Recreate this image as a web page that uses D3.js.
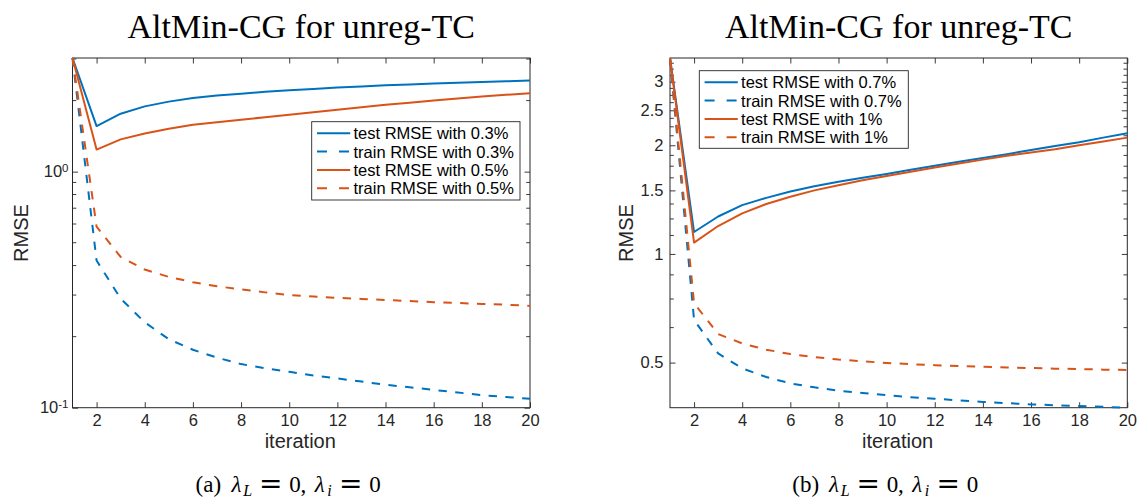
<!DOCTYPE html>
<html>
<head>
<meta charset="utf-8">
<script src="https://cdn.jsdelivr.net/npm/d3@7"></script>
<style>
  body { margin: 0; background: #fff; }
  svg { display: block; }
  text { font-family: "Liberation Sans", Arial, sans-serif; }
</style>
</head>
<body>
<svg id="chart" width="1139" height="499"></svg>
<script>
// ---- data -------------------------------------------------------------
const iterations = [1, 2, 3, 4, 5, 6, 7, 8, 9, 10, 11, 12, 13, 14, 15, 16, 17, 18, 19, 20];

// panel (a): sampling 0.3% and 0.5%
const testRmse03  = [3.03, 1.56, 1.76, 1.89, 1.98, 2.05, 2.10, 2.14, 2.18, 2.21, 2.24, 2.27, 2.295, 2.32, 2.34, 2.36, 2.38, 2.40, 2.415, 2.43];
const trainRmse03 = [3.03, 0.42, 0.29, 0.23, 0.195, 0.176, 0.163, 0.153, 0.147, 0.142, 0.137, 0.133, 0.129, 0.125, 0.122, 0.119, 0.116, 0.113, 0.111, 0.109];
const testRmse05  = [3.03, 1.24, 1.37, 1.45, 1.52, 1.58, 1.62, 1.66, 1.70, 1.74, 1.785, 1.83, 1.875, 1.92, 1.96, 2.00, 2.04, 2.08, 2.115, 2.15];
const trainRmse05 = [3.03, 0.585, 0.435, 0.385, 0.358, 0.340, 0.327, 0.317, 0.308, 0.300, 0.296, 0.292, 0.289, 0.286, 0.283, 0.280, 0.278, 0.275, 0.273, 0.270];

// panel (b): sampling 0.7% and 1%
const testRmse07  = [3.49, 1.15, 1.27, 1.365, 1.43, 1.49, 1.54, 1.585, 1.625, 1.665, 1.71, 1.755, 1.80, 1.845, 1.89, 1.94, 1.99, 2.04, 2.10, 2.16];
const trainRmse07 = [3.49, 0.656, 0.53, 0.482, 0.456, 0.438, 0.427, 0.418, 0.412, 0.406, 0.401, 0.397, 0.393, 0.389, 0.386, 0.383, 0.381, 0.379, 0.377, 0.375];
const testRmse1   = [3.49, 1.075, 1.195, 1.295, 1.375, 1.44, 1.50, 1.55, 1.60, 1.645, 1.69, 1.735, 1.78, 1.825, 1.87, 1.91, 1.95, 2.00, 2.05, 2.10];
const trainRmse1  = [3.49, 0.73, 0.60, 0.565, 0.543, 0.528, 0.518, 0.510, 0.504, 0.499, 0.495, 0.492, 0.489, 0.487, 0.485, 0.483, 0.481, 0.480, 0.478, 0.477];

// ticks and labels
const xTicks = [2, 4, 6, 8, 10, 12, 14, 16, 18, 20];
const leftYTicks = [0.1, 1];
const leftYTickExponents = ["-1", "0"];
const leftYMinorTicks = [0.2, 0.3, 0.4, 0.5, 0.6, 0.7, 0.8, 0.9, 2, 3];
const rightYTicks = [0.5, 1, 1.5, 2, 2.5, 3];
const rightYTickLabels = ["0.5", "1", "1.5", "2", "2.5", "3"];
const rightYMinorTicks = [0.625, 0.75, 0.875, 1.125, 1.25, 1.375, 1.625, 1.75, 1.875,
                          2.125, 2.25, 2.375, 2.625, 2.75, 2.875, 3.125, 3.25, 3.375];

const legendA = ["test RMSE with 0.3%", "train RMSE with 0.3%", "test RMSE with 0.5%", "train RMSE with 0.5%"];
const legendB = ["test RMSE with 0.7%", "train RMSE with 0.7%", "test RMSE with 1%", "train RMSE with 1%"];

const titleText = "AltMin-CG for unreg-TC";
const xLabelText = "iteration";
const yLabelText = "RMSE";

// ---- style ------------------------------------------------------------
const BLUE = "#0072BD";
const ORANGE = "#D95319";
const AXIS = "#262626";
const TICK_FONT = 16.5;
const LABEL_FONT = 20;
const MAJOR_TICK = 5.5;
const MINOR_TICK = 3.8;
const DASH = "8.4,8.4";
const SERIF = '"Liberation Serif", "Times New Roman", serif';

const svg = d3.select("#chart");

function drawPanel(cfg) {
  const top = 58, bottom = 407.7;
  const x = d3.scaleLinear().domain([1, 20]).range([cfg.left, cfg.right]);
  const y = d3.scaleLog().domain(cfg.yDomain).range([bottom, top]);
  const g = svg.append("g");

  // minor ticks on both vertical sides
  const minor = g.append("g").attr("stroke", AXIS).attr("stroke-width", 0.9);
  cfg.minorTicks.forEach(v => {
    minor.append("line").attr("x1", cfg.left).attr("x2", cfg.left + MINOR_TICK)
      .attr("y1", y(v)).attr("y2", y(v));
    minor.append("line").attr("x1", cfg.right).attr("x2", cfg.right - MINOR_TICK)
      .attr("y1", y(v)).attr("y2", y(v));
  });

  // axes (ticks pointing inward)
  const styleAxis = sel => {
    sel.select(".domain").remove();
    sel.selectAll(".tick line").attr("stroke", AXIS).attr("stroke-width", 0.9);
    sel.selectAll(".tick text").attr("fill", AXIS).style("font-size", TICK_FONT + "px")
      .style("font-family", '"Liberation Sans", Arial, sans-serif');
  };

  g.append("g").attr("transform", `translate(0,${bottom})`)
    .call(d3.axisBottom(x).tickValues(xTicks).tickFormat(d3.format("d"))
      .tickSizeInner(-MAJOR_TICK).tickSizeOuter(0).tickPadding(7))
    .call(styleAxis);
  g.append("g").attr("transform", `translate(0,${top})`)
    .call(d3.axisTop(x).tickValues(xTicks).tickFormat("")
      .tickSizeInner(-MAJOR_TICK).tickSizeOuter(0))
    .call(styleAxis);

  const yAxis = g.append("g").attr("transform", `translate(${cfg.left},0)`)
    .call(d3.axisLeft(y).tickValues(cfg.yTicks).tickFormat((d, i) => cfg.yTickLabels[i])
      .tickSizeInner(-MAJOR_TICK).tickSizeOuter(0).tickPadding(cfg.yPad))
    .call(styleAxis);
  g.append("g").attr("transform", `translate(${cfg.right},0)`)
    .call(d3.axisRight(y).tickValues(cfg.yTicks).tickFormat("")
      .tickSizeInner(-MAJOR_TICK).tickSizeOuter(0))
    .call(styleAxis);

  if (cfg.powerLabels) {
    yAxis.selectAll(".tick text").each(function (d, i) {
      const t = d3.select(this).text(null);
      t.append("tspan").text("10");
      t.append("tspan").attr("dy", "-0.45em").style("font-size", "11.5px").text(cfg.yTickLabels[i]);
    });
  }

  // box
  g.append("rect").attr("x", cfg.left).attr("y", top)
    .attr("width", cfg.right - cfg.left).attr("height", bottom - top)
    .attr("fill", "none").attr("stroke", AXIS).attr("stroke-width", 1);

  // series
  const line = d3.line().x((d, i) => x(iterations[i])).y(d => y(d));
  const plotArea = g.append("g");
  cfg.series.forEach(s => {
    plotArea.append("path").datum(s.values)
      .attr("d", line).attr("fill", "none")
      .attr("stroke", s.color).attr("stroke-width", 2)
      .attr("stroke-linejoin", "round")
      .attr("stroke-dasharray", s.dashed ? DASH : null);
  });

  // legend
  const L = cfg.legend;
  const lg = g.append("g").attr("transform", `translate(${L.x},${L.y})`);
  lg.append("rect").attr("width", L.w).attr("height", L.h)
    .attr("fill", "#fff").attr("stroke", AXIS).attr("stroke-width", 0.9);
  cfg.series.forEach((s, i) => {
    const ry = 11.6 + i * 18.3;
    lg.append("line").attr("x1", 5.3).attr("x2", 38.5).attr("y1", ry).attr("y2", ry)
      .attr("stroke", s.color).attr("stroke-width", 2)
      .attr("stroke-dasharray", s.dashed ? "10,12" : null);
    lg.append("text").attr("x", 41.8).attr("y", ry).attr("dy", "0.36em")
      .style("font-size", TICK_FONT + "px").attr("fill", "#000").text(cfg.legendLabels[i]);
  });

  const cx = (cfg.left + cfg.right) / 2;

  // title
  g.append("text").attr("x", cx).attr("y", 38.3).attr("text-anchor", "middle")
    .style("font-family", SERIF)
    .style("font-size", "34px").attr("fill", "#000").text(titleText);

  // axis labels
  g.append("text").attr("x", cx - 1).attr("y", 448.3).attr("text-anchor", "middle")
    .style("font-size", LABEL_FONT + "px").attr("fill", AXIS).text(xLabelText);
  g.append("text").attr("transform", `translate(${cfg.yLabelX},233) rotate(-90)`)
    .attr("text-anchor", "middle")
    .style("font-size", LABEL_FONT + "px").attr("fill", AXIS).text(yLabelText);

  // caption: (a) λ_L = 0, λ_i = 0
  const cap = g.append("g").attr("transform", `translate(${cfg.captionX},492)`);
  const parts = [
    { t: cfg.captionTag, c: 15, size: 23 },
    { t: "λ", c: 43.3, size: 23, it: true },
    { t: "L", c: 54.5, size: 16, it: true, sub: true },
    { t: "=", c: 77.5, size: 28, eq: true },
    { t: "0", c: 101.7, size: 23 },
    { t: ",", c: 110.2, size: 23 },
    { t: "λ", c: 126.5, size: 23, it: true },
    { t: "i", c: 136.2, size: 16, it: true, sub: true },
    { t: "=", c: 157.5, size: 28, eq: true },
    { t: "0", c: 181.7, size: 23 }
  ];
  parts.forEach(p => {
    cap.append("text").attr("x", p.c).attr("y", p.sub ? 4 : (p.eq ? 1 : 0))
      .attr("text-anchor", "middle")
      .attr("fill", "#000")
      .style("font-size", p.size + "px")
      .style("font-style", p.it ? "italic" : "normal")
      .style("font-family", p.eq ? '"DejaVu Serif", serif' : SERIF)
      .text(p.t);
  });
}

drawPanel({
  left: 72.5, right: 530,
  yDomain: [0.1, d3.max(testRmse03)],
  yTicks: leftYTicks, yTickLabels: leftYTickExponents, powerLabels: true, yPad: 4,
  minorTicks: leftYMinorTicks,
  series: [
    { values: testRmse03, color: BLUE, dashed: false },
    { values: trainRmse03, color: BLUE, dashed: true },
    { values: testRmse05, color: ORANGE, dashed: false },
    { values: trainRmse05, color: ORANGE, dashed: true }
  ],
  legendLabels: legendA,
  legend: { x: 311.7, y: 121.7, w: 208.3, h: 78.3 },
  yLabelX: 28.3,
  captionX: 193.3, captionTag: "(a)"
});

drawPanel({
  left: 670, right: 1127.3,
  yDomain: [d3.min(trainRmse07), d3.max(testRmse07)],
  yTicks: rightYTicks, yTickLabels: rightYTickLabels, powerLabels: false, yPad: 6.5,
  minorTicks: rightYMinorTicks,
  series: [
    { values: testRmse07, color: BLUE, dashed: false },
    { values: trainRmse07, color: BLUE, dashed: true },
    { values: testRmse1, color: ORANGE, dashed: false },
    { values: trainRmse1, color: ORANGE, dashed: true }
  ],
  legendLabels: legendB,
  legend: { x: 699.3, y: 70.7, w: 209, h: 77.6 },
  yLabelX: 633.3,
  captionX: 790.7, captionTag: "(b)"
});
</script>
</body>
</html>
